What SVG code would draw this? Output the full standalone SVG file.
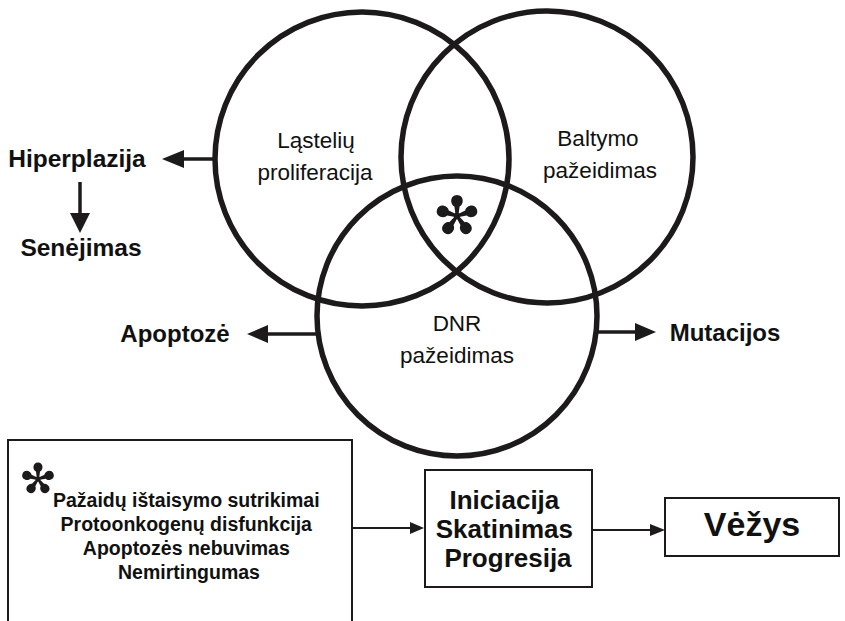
<svg xmlns="http://www.w3.org/2000/svg" xmlns:xlink="http://www.w3.org/1999/xlink" width="845" height="621" viewBox="0 0 845 621">
<style>
.c{fill:none;stroke:#1c1a1a;stroke-width:5.5}
.lbl{font-family:"Liberation Sans",Arial,sans-serif;font-size:22.5px;fill:#111;text-anchor:middle}
.b{font-family:"Liberation Sans",Arial,sans-serif;font-weight:bold;fill:#111}
.box{fill:none;stroke:#1c1a1a;stroke-width:2}
.ln{stroke:#1c1a1a;stroke-width:3.5;fill:none}
.lt{stroke:#1c1a1a;stroke-width:2.2;fill:none}
.ah{fill:#1c1a1a}
</style>
<defs>
<g id="ast">
<path id="petal" d="M-1.3,0 L-2.6,-9.5 C-7.2,-11.5 -7.2,-21 0,-21 C7.2,-21 7.2,-11.5 2.6,-9.5 L1.3,0 Z"/>
<use xlink:href="#petal" transform="rotate(72)"/>
<use xlink:href="#petal" transform="rotate(144)"/>
<use xlink:href="#petal" transform="rotate(216)"/>
<use xlink:href="#petal" transform="rotate(288)"/>
<circle r="3.2"/>
</g>
</defs>
<rect width="845" height="621" fill="#fff"/>

<g id="circles">
<g id="circle-proliferacija"><circle class="c" cx="362" cy="159" r="147"/>
<text class="lbl" x="316" y="148">Ląstelių</text>
<text class="lbl" x="315" y="180">proliferacija</text></g>
<g id="circle-baltymo"><circle class="c" cx="547" cy="157" r="146"/>
<text class="lbl" x="598" y="146">Baltymo</text>
<text class="lbl" x="600" y="178">pažeidimas</text></g>
<g id="circle-dnr"><circle class="c" cx="457" cy="316" r="140"/>
<text class="lbl" x="457" y="331">DNR</text>
<text class="lbl" x="457" y="363">pažeidimas</text></g>
<g id="asterisk-center" fill="#1c1a1a"><use xlink:href="#ast" transform="translate(457,216)"/></g>
</g>

<g id="hiperplazija"><text class="b" x="77" y="167" font-size="24.5" text-anchor="middle">Hiperplazija</text></g>
<g id="senejimas"><text class="b" x="81" y="256" font-size="24.5" text-anchor="middle">Senėjimas</text></g>
<g id="apoptoze"><text class="b" x="175" y="342" font-size="24" text-anchor="middle">Apoptozė</text></g>
<g id="mutacijos"><text class="b" x="725" y="341" font-size="24" text-anchor="middle">Mutacijos</text></g>

<g id="box-factors">
<path class="box" d="M8,625 L8,440 L352,440 L352,625"/>
<g fill="#1c1a1a"><use xlink:href="#ast" transform="translate(38,479) scale(0.78)"/></g>
<text class="b" font-size="19.5" text-anchor="middle">
<tspan x="189" y="507">Pažaidų ištaisymo sutrikimai</tspan>
<tspan x="189" y="531">Protoonkogenų disfunkcija</tspan>
<tspan x="189" y="555">Apoptozės nebuvimas</tspan>
<tspan x="189" y="579">Nemirtingumas</tspan>
</text>
</g>

<g id="box-stages">
<rect class="box" x="425" y="470" width="167" height="117"/>
<text class="b" font-size="26" text-anchor="middle">
<tspan x="508" y="509">Iniciacija</tspan>
<tspan x="508" y="538">Skatinimas</tspan>
<tspan x="508" y="567">Progresija</tspan>
</text>
</g>

<g id="box-vezys">
<rect class="box" x="665" y="498" width="174" height="58"/>
<text class="b" x="752" y="536" font-size="34" text-anchor="middle">Vėžys</text>
</g>

<g id="connectors">
<line class="ln" x1="213" y1="159" x2="180" y2="159"/>
<path class="ah" d="M162,159 L184,150 L184,168 Z"/>
<line class="ln" x1="80" y1="182" x2="80" y2="216"/>
<path class="ah" d="M80,233 L70,213 L90,213 Z"/>
<line class="ln" x1="317" y1="334" x2="264" y2="334"/>
<path class="ah" d="M247,334 L268,325 L268,343 Z"/>
<line class="ln" x1="598" y1="332" x2="638" y2="332"/>
<path class="ah" d="M656,332 L635,323 L635,341 Z"/>
<line class="lt" x1="352" y1="528" x2="412" y2="528"/>
<path class="ah" d="M424,528 L410,522 L410,534 Z"/>
<line class="lt" x1="592" y1="530" x2="652" y2="530"/>
<path class="ah" d="M665,530 L650,524 L650,536 Z"/>
</g>
</svg>
